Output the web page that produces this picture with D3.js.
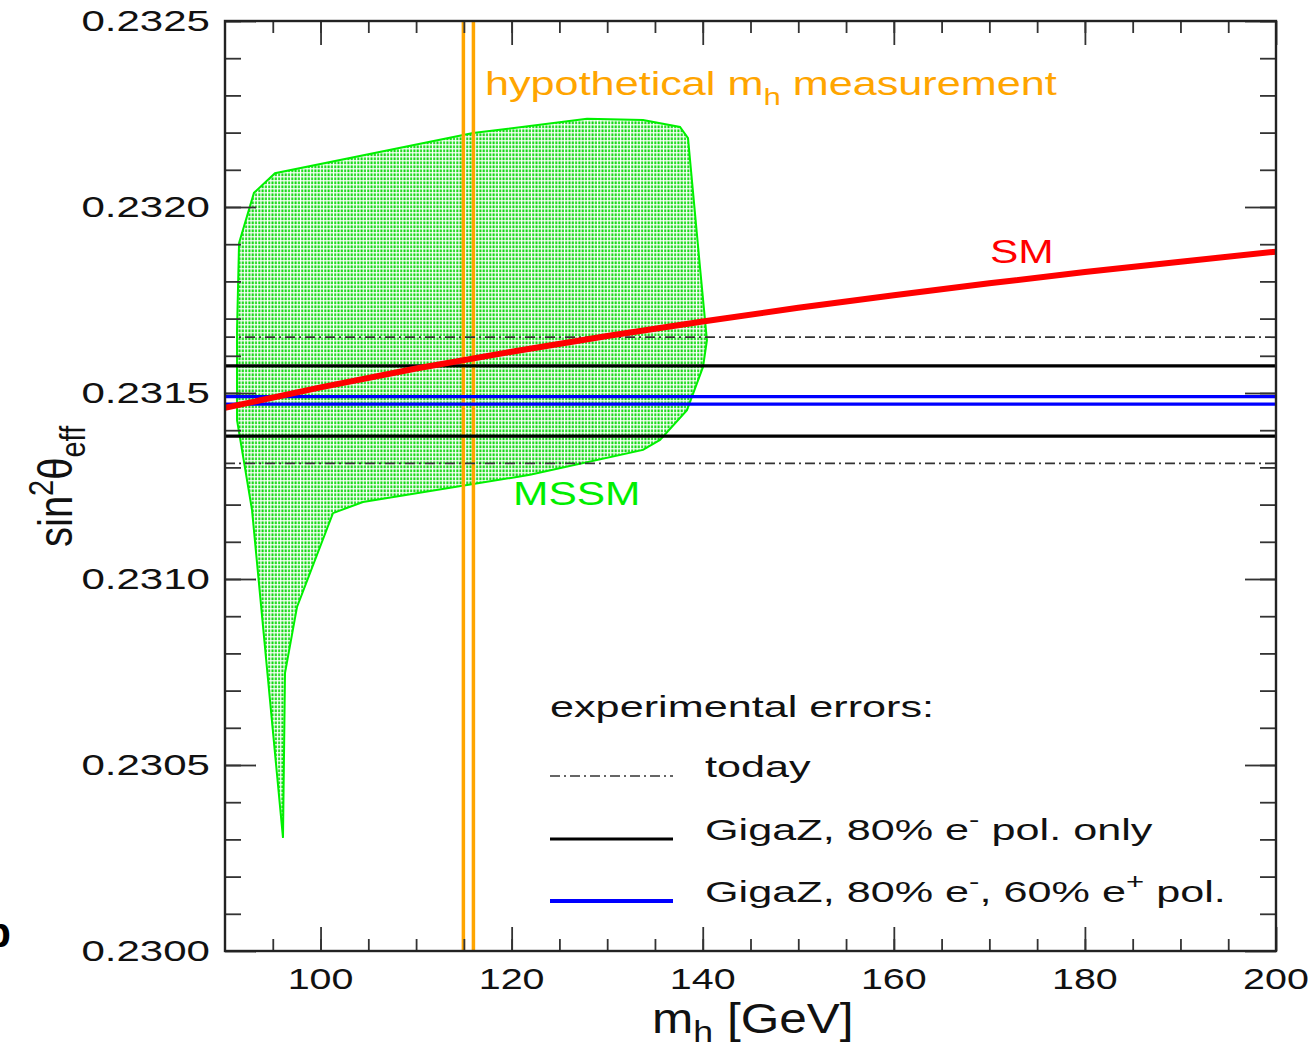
<!DOCTYPE html>
<html>
<head>
<meta charset="utf-8">
<script src="https://cdn.jsdelivr.net/npm/d3@7"></script>
<style>
  body { margin: 0; background: #fff; }
  svg { display: block; font-family: "Liberation Sans", Arial, sans-serif; }
  text { white-space: pre; }
</style>
</head>
<body>
<div id="chart"></div>
<script>
// Data
// =================================
var smMh  = [90, 100, 110, 120, 130, 140, 150, 160, 170, 180, 190, 200];
var smSin = [0.231460, 0.231515, 0.231566, 0.231611, 0.231653, 0.231692,
             0.231729, 0.231763, 0.231795, 0.231825, 0.231853, 0.231880];

var mssmMh  = [91.47, 93.03, 95.23, 115.96, 127.89, 133.75, 137.62, 138.46,
               139.71, 140.44, 140.03, 138.35, 135.53, 133.75, 121.92, 104.44,
               101.30, 97.54, 96.28, 96.07, 92.83, 91.26, 91.26];
var mssmSin = [0.231903, 0.232038, 0.232091, 0.232199, 0.232237, 0.232234, 0.232215, 0.232185,
               0.231839, 0.231642, 0.231570, 0.231454, 0.231374, 0.231347, 0.231280, 0.231207,
               0.231177, 0.230925, 0.230747, 0.230304, 0.231185, 0.231427, 0.231669];

var todayBand   = [0.231311, 0.231650];
var gigaZeBand  = [0.231384, 0.231573];
var gigaZepBand = [0.231470, 0.231490];
var mhMeasured  = [114.95, 116.0];

var xTickLabels = [100, 120, 140, 160, 180, 200];
var yTickLabels = [0.2300, 0.2305, 0.2310, 0.2315, 0.2320, 0.2325];

// Step 1: chart set up
// =================================
var svgWidth  = 1310;
var svgHeight = 1047;
var margin = { top: 21, right: 34, bottom: 96, left: 225 };
var width  = svgWidth  - margin.left - margin.right;
var height = svgHeight - margin.top  - margin.bottom;

var svg = d3.select("#chart").append("svg")
  .attr("width", svgWidth)
  .attr("height", svgHeight);

var defs = svg.append("defs");
var pat = defs.append("pattern")
  .attr("id", "mssmDots")
  .attr("patternUnits", "userSpaceOnUse")
  .attr("width", 3.3)
  .attr("height", 4);
pat.append("rect")
  .attr("x", 0.3).attr("y", 0.4)
  .attr("width", 2).attr("height", 2.8)
  .attr("fill", "#10d810");

defs.append("clipPath").attr("id", "plotClip")
  .append("rect").attr("width", width).attr("height", height);

var g = svg.append("g")
  .attr("transform", `translate(${margin.left}, ${margin.top})`);

// Step 2: scales
// =================================
var x = d3.scaleLinear().domain([90, 200]).range([0, width]);
var y = d3.scaleLinear().domain([0.2300, 0.2325]).range([height, 0]);

var plot = g.append("g").attr("clip-path", "url(#plotClip)");

// MSSM area
var mssmPts = mssmMh.map((m, i) => [x(m), y(mssmSin[i])]);
var areaLine = d3.line().curve(d3.curveLinearClosed);
plot.append("path")
  .attr("d", areaLine(mssmPts))
  .attr("fill", "url(#mssmDots)")
  .attr("stroke", "#00f000")
  .attr("stroke-width", 2);

// hypothetical mh measurement
plot.selectAll("line.mh")
  .data(mhMeasured)
.enter().append("line")
  .attr("class", "mh")
  .attr("x1", d => x(d)).attr("x2", d => x(d))
  .attr("y1", 0).attr("y2", height)
  .attr("stroke", "#ffa500")
  .attr("stroke-width", 3.5);

// horizontal error bands
function hLines(vals, color, w, dash) {
  plot.append("g").selectAll("line")
    .data(vals)
  .enter().append("line")
    .attr("x1", 0).attr("x2", width)
    .attr("y1", d => y(d)).attr("y2", d => y(d))
    .attr("stroke", color)
    .attr("stroke-width", w)
    .attr("stroke-dasharray", dash || null);
}
hLines(todayBand, "#333", 1.8, "10,4,2,4");
hLines(gigaZeBand, "#000", 3.2);
hLines(gigaZepBand, "#0000ff", 3.2);

// SM line
var smLine = d3.line().x(d => x(d[0])).y(d => y(d[1]));
plot.append("path")
  .datum(smMh.map((m, i) => [m, smSin[i]]))
  .attr("d", smLine)
  .attr("fill", "none")
  .attr("stroke", "#ff0000")
  .attr("stroke-width", 6);

// Step 3: ticks on all four sides (inward)
// =================================
var tickCol = "#333";
function styleAxis(sel) {
  sel.select(".domain").remove();
  sel.selectAll("line").attr("stroke", tickCol).attr("stroke-width", 1.8);
}
var xMinor = d3.range(95, 200, 5);
var yMinor = d3.range(0.2301, 0.2325, 0.0001);

g.append("g").attr("transform", `translate(0, ${height})`)
  .call(d3.axisBottom(x).tickValues(xMinor).tickSize(-12).tickFormat(""))
  .call(styleAxis);
g.append("g").attr("transform", `translate(0, ${height})`)
  .call(d3.axisBottom(x).tickValues(xTickLabels).tickSize(-24).tickFormat(""))
  .call(styleAxis);
g.append("g")
  .call(d3.axisTop(x).tickValues(xMinor).tickSize(-12).tickFormat(""))
  .call(styleAxis);
g.append("g")
  .call(d3.axisTop(x).tickValues(xTickLabels).tickSize(-24).tickFormat(""))
  .call(styleAxis);
g.append("g")
  .call(d3.axisLeft(y).tickValues(yMinor).tickSize(-16).tickFormat(""))
  .call(styleAxis);
g.append("g")
  .call(d3.axisLeft(y).tickValues(yTickLabels).tickSize(-31).tickFormat(""))
  .call(styleAxis);
g.append("g").attr("transform", `translate(${width}, 0)`)
  .call(d3.axisRight(y).tickValues(yMinor).tickSize(-16).tickFormat(""))
  .call(styleAxis);
g.append("g").attr("transform", `translate(${width}, 0)`)
  .call(d3.axisRight(y).tickValues(yTickLabels).tickSize(-31).tickFormat(""))
  .call(styleAxis);

g.append("rect")
  .attr("width", width).attr("height", height)
  .attr("fill", "none")
  .attr("stroke", "#222")
  .attr("stroke-width", 2.4);

// Step 4: text helper (horizontally stretched like the reference)
// =================================
function label(parent, px, py, parts, size, sx, color, anchor) {
  var t = parent.append("text")
    .attr("transform", `translate(${px}, ${py}) scale(${sx}, 1)`)
    .attr("font-size", size)
    .attr("fill", color)
    .attr("text-anchor", anchor || "start");
  var shift = 0;
  parts.forEach(p => {
    var target = p.sub ? (p.lift || 0.3) * size : (p.sup ? -0.42 * size : 0);
    t.append("tspan")
      .attr("dy", target - shift)
      .attr("font-size", (p.sub || p.sup) ? 0.72 * size : size)
      .text(p.t);
    shift = target;
  });
  return t;
}

// tick labels
xTickLabels.forEach(v => {
  label(g, x(v), height + 38, [{t: String(v)}], 29, 1.36, "#111", "middle");
});
yTickLabels.forEach(v => {
  label(g, -15, y(v) + 10, [{t: v.toFixed(4)}], 29, 1.45, "#111", "end");
});

// axis titles
label(svg, 652, 1033, [{t: "m"}, {t: "h", sub: true, lift: 0.22}, {t: " [GeV]"}], 42, 1.18, "#111");
svg.append("text")
  .attr("transform", "translate(72, 547) scale(1.2, 1) rotate(-90)")
  .attr("font-size", 40)
  .attr("fill", "#111")
  .call(t => {
    t.append("tspan").text("sin");
    t.append("tspan").attr("dy", -16).attr("font-size", 29).text("2");
    t.append("tspan").attr("dy", 16).text("θ");
    t.append("tspan").attr("dy", 11).attr("font-size", 29).text("eff");
  });

// in-plot labels
label(svg, 485, 95, [{t: "hypothetical m"}, {t: "h", sub: true}, {t: " measurement"}], 34, 1.27, "#ffa500");
label(svg, 990, 263, [{t: "SM"}], 34, 1.25, "#ff0000");
label(svg, 513, 505, [{t: "MSSM"}], 34, 1.25, "#00ee00");

// Step 5: legend
// =================================
var legendItems = [
  { color: "#333", w: 1.3, dash: "10,4,2,4", y: 777, parts: [{t: "today"}] },
  { color: "#000", w: 3.2, dash: null, y: 840,
    parts: [{t: "GigaZ, 80% e"}, {t: "-", sup: true}, {t: " pol. only"}] },
  { color: "#0000ff", w: 4, dash: null, y: 902,
    parts: [{t: "GigaZ, 80% e"}, {t: "-", sup: true}, {t: ", 60% e"}, {t: "+", sup: true}, {t: " pol."}] }
];
label(svg, 550, 717, [{t: "experimental errors:"}], 30, 1.44, "#111");
legendItems.forEach(d => {
  svg.append("line")
    .attr("x1", 550).attr("x2", 673)
    .attr("y1", d.y - 1).attr("y2", d.y - 1)
    .attr("stroke", d.color)
    .attr("stroke-width", d.w)
    .attr("stroke-dasharray", d.dash);
  label(svg, 705, d.y, d.parts, 30, 1.44, "#111");
});

// clipped panel letter at the left edge
svg.append("text")
  .attr("x", 11).attr("y", 947)
  .attr("text-anchor", "end")
  .attr("font-size", 42)
  .attr("font-weight", "bold")
  .text("b");
</script>
</body>
</html>
